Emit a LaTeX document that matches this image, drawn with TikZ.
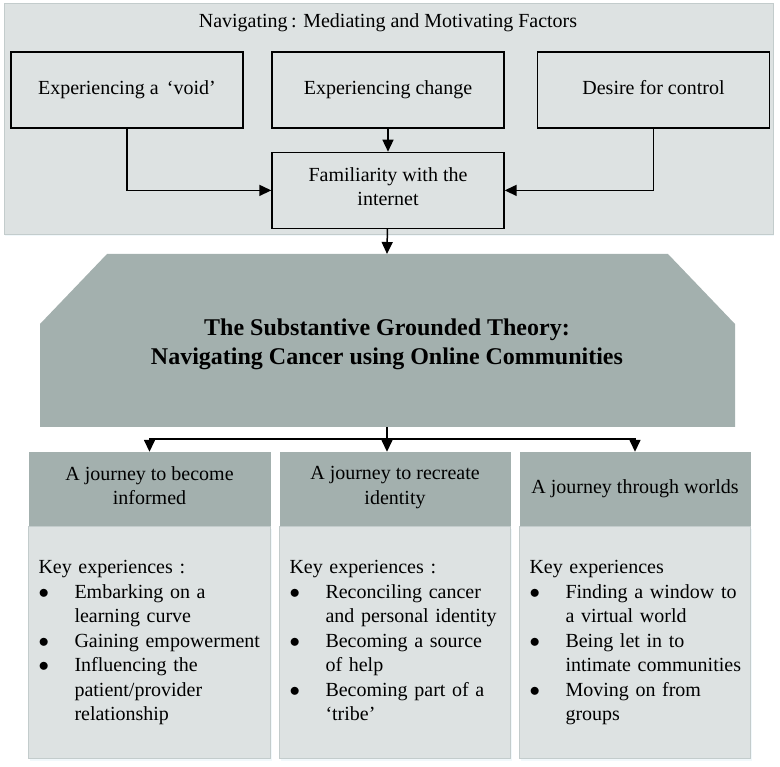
\documentclass[tikz,border=0pt]{standalone}
\usepackage{fontspec}
\setmainfont{Liberation Serif}
\usetikzlibrary{arrows.meta, positioning, shadows}
\definecolor{panelgray}{HTML}{DDE2E2}
\definecolor{themegray}{HTML}{A3B0AE}
\definecolor{edgegray}{HTML}{C3CCCC}
\definecolor{glow}{HTML}{E3F1F8}
\newcommand\keybullet{\makebox[36pt][l]{$\bullet$}}
\newcommand\keyindent{\hspace*{36pt}}
\tikzset{
    >={Triangle[width=11pt, length=12pt]},      % Big filled arrow heads
    link/.style={->, line width=1.5pt},         % Connectors between boxes
    node distance = 23pt,                       % Gap between the factor boxes
    every node/.style={font=\fontsize{20}{24.5}\selectfont},
    struts/.style={execute at begin node=\strut, execute at end node=\strut},
    factor/.style={draw, line width=1.4pt, fill=panelgray, minimum width=232pt,
                   minimum height=76pt, align=center, struts},
    journey/.style={fill=themegray, minimum width=#1, minimum height=74pt,
                    align=center, inner sep=0pt, struts},
    keylist/.style={fill=panelgray, draw=edgegray, line width=0.6pt, text width=#1,
                    inner xsep=10pt, minimum height=232pt, align=left,
                    drop shadow={shadow xshift=1pt, shadow yshift=-2pt, fill=glow}}
}

\begin{document}
\begin{tikzpicture}[x=1pt, y=-1pt]
    \useasboundingbox (0,0) rectangle (780,767);

    % mediating and motivating factors
    \draw[fill=panelgray, draw=edgegray, line width=0.6pt,
          drop shadow={shadow xshift=1pt, shadow yshift=-2pt, fill=glow}] (4,3) rectangle (773,234);
    \node (navigating) at (388,23) {Navigating\,: Mediating and Motivating Factors};

    \node [factor] (change) at (388,90) {Experiencing change};
    \node [factor] (void) at (127,90) {Experiencing a \,‘void’};
    \node [factor] (control) at (653.5,90) {Desire for control};
    \node [factor, below = of change] (familiar) {Familiarity with the\\internet};

    \draw [link] (void.south) |- (familiar.west);
    \draw [link] (change) -- (familiar);
    \draw [link] (control.south) |- (familiar.east);

    % the theory
    \coordinate (hextop) at (387,254);
    \coordinate (hexbottom) at (387,427);
    \coordinate (split) at (387,439);
    \fill[themegray] (107,254) -- (668,254) -- (735,324) -- (735,427) -- (40,427) -- (40,324) -- cycle;
    \node [font=\fontsize{24}{29}\selectfont\bfseries, align=center] (theory) at (387,344)
        {The Substantive Grounded Theory:\\Navigating Cancer using Online Communities};

    \draw [link] (familiar) -- (hextop);

    % the three journeys
    \node [journey=242pt] (informed) at (149.5,489) {A journey to become\\informed};
    \node [journey=231pt] (identity) at (395,489) {A journey to recreate\\identity};
    \node [journey=231pt] (worlds) at (635,489) {A journey through worlds};

    \node [keylist=222pt, below = 0pt of informed] (informedkey) {\begin{tabular}{@{}l@{}}
        Key experiences :\\
        \keybullet Embarking on a\\ \keyindent learning curve\\
        \keybullet Gaining empowerment\\
        \keybullet Influencing the\\ \keyindent patient/provider\\ \keyindent relationship
        \end{tabular}};
    \node [keylist=211pt, below = 0pt of identity] (identitykey) {\begin{tabular}{@{}l@{}}
        Key experiences :\\
        \keybullet Reconciling cancer\\ \keyindent and personal identity\\
        \keybullet Becoming a source\\ \keyindent of help\\
        \keybullet Becoming part of a\\ \keyindent ‘tribe’
        \end{tabular}};
    \node [keylist=211pt, below = 0pt of worlds] (worldskey) {\begin{tabular}{@{}l@{}}
        Key experiences\\
        \keybullet Finding a window to\\ \keyindent a virtual world\\
        \keybullet Being let in to\\ \keyindent intimate communities\\
        \keybullet Moving on from\\ \keyindent groups
        \end{tabular}};

    \draw [line width=1.5pt] (hexbottom) -- (split);
    \draw [link] (split) -| (informed.north);
    \draw [link] (split) -| (worlds.north);
    \draw [link] (split) -- (split |- identity.north);
\end{tikzpicture}
\end{document}
